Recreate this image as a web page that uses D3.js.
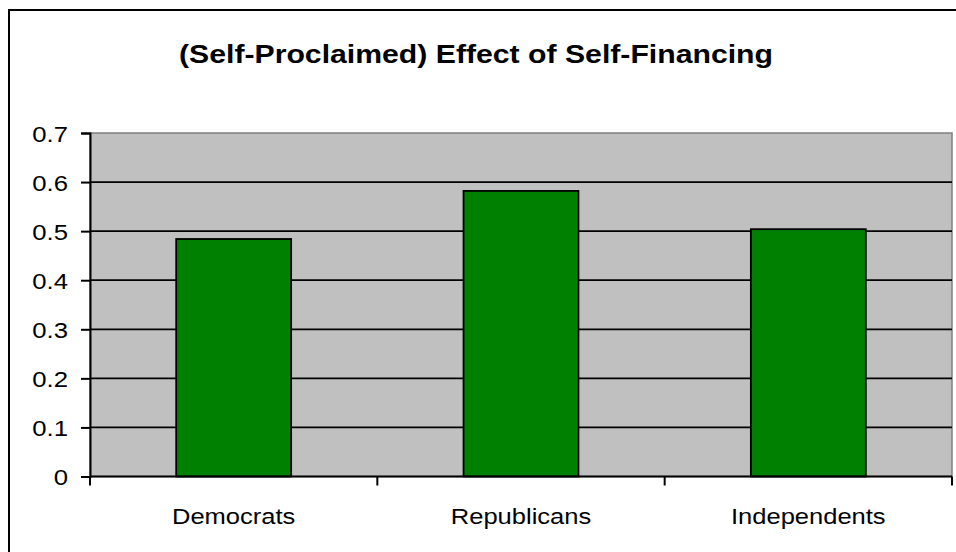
<!DOCTYPE html>
<html>
<head>
<meta charset="utf-8">
<script src="https://cdn.jsdelivr.net/npm/d3@7"></script>
<style>
  html, body { margin: 0; padding: 0; background: #fff; }
  svg { display: block; }
  text { font-family: "Liberation Sans", Arial, sans-serif; fill: #000; }
</style>
</head>
<body>
<svg id="chart" width="956" height="552"></svg>
<script>
// Chart data
const title = "(Self-Proclaimed) Effect of Self-Financing";
const categories = ["Democrats", "Republicans", "Independents"];
const values = [0.484, 0.582, 0.504];
const yTicks = [0, 0.1, 0.2, 0.3, 0.4, 0.5, 0.6, 0.7];
const yTickLabels = ["0", "0.1", "0.2", "0.3", "0.4", "0.5", "0.6", "0.7"];

const svg = d3.select("#chart");
const W = 956, H = 552;
const plot = { left: 90, right: 952, top: 133, bottom: 476.5 };

// outer chart frame (runs off the right and bottom edges)
svg.append("rect")
  .attr("x", 9).attr("y", 10)
  .attr("width", W + 20).attr("height", H + 20)
  .attr("fill", "#fff").attr("stroke", "#000").attr("stroke-width", 2);

const x = d3.scaleBand().domain(categories).range([plot.left, plot.right]).padding(0);
const y = d3.scaleLinear().domain([0, 0.7]).range([plot.bottom, plot.top]);

// plot area background with grey border
svg.append("rect")
  .attr("x", plot.left).attr("y", plot.top)
  .attr("width", plot.right - plot.left).attr("height", plot.bottom - plot.top)
  .attr("fill", "#C0C0C0").attr("stroke", "#808080").attr("stroke-width", 1.5);

// horizontal gridlines
svg.append("g").selectAll("line")
  .data(yTicks.filter(d => d > 0 && d < 0.7))
  .join("line")
  .attr("x1", plot.left).attr("x2", plot.right)
  .attr("y1", d => y(d)).attr("y2", d => y(d))
  .attr("stroke", "#000").attr("stroke-width", 1.8);

// bars: 150% gap width -> bar is 40% of the category band
const barFrac = 0.4;
svg.append("g").selectAll("rect")
  .data(categories.map((c, i) => ({ c, v: values[i] })))
  .join("rect")
  .attr("x", d => x(d.c) + x.bandwidth() * (1 - barFrac) / 2)
  .attr("width", x.bandwidth() * barFrac)
  .attr("y", d => y(d.v))
  .attr("height", d => y(0) - y(d.v))
  .attr("fill", "#008000").attr("stroke", "#000").attr("stroke-width", 1.8);

// y axis
const yAxis = d3.axisLeft(y).tickValues(yTicks)
  .tickFormat((d, i) => yTickLabels[i]).tickSize(9).tickPadding(0);
const gy = svg.append("g").attr("transform", `translate(${plot.left},0)`).call(yAxis);
gy.select(".domain").attr("stroke", "#000").attr("stroke-width", 2);
gy.selectAll(".tick line").attr("stroke", "#000").attr("stroke-width", 2);
gy.selectAll(".tick text")
  .attr("x", 0).attr("dy", "0.36em")
  .attr("font-size", 23)
  .attr("text-anchor", "end")
  .attr("transform", "translate(-22,0) scale(1.12,1)");

// x axis: ticks at category boundaries
const boundaries = [plot.left].concat(categories.map(c => x(c) + x.bandwidth()));
const gx = svg.append("g");
gx.append("line")
  .attr("x1", plot.left).attr("x2", plot.right)
  .attr("y1", plot.bottom).attr("y2", plot.bottom)
  .attr("stroke", "#000").attr("stroke-width", 2);
gx.selectAll("line.tk")
  .data(boundaries)
  .join("line").attr("class", "tk")
  .attr("x1", d => d).attr("x2", d => d)
  .attr("y1", plot.bottom).attr("y2", plot.bottom + 9)
  .attr("stroke", "#000").attr("stroke-width", 2);
gx.selectAll("text")
  .data(categories)
  .join("text")
  .attr("text-anchor", "middle")
  .attr("font-size", 22)
  .attr("transform", d => `translate(${x(d) + x.bandwidth() / 2},524) scale(1.16,1)`)
  .text(d => d);

// title
svg.append("text")
  .attr("text-anchor", "middle")
  .attr("font-size", 26.5)
  .attr("font-weight", "bold")
  .attr("transform", "translate(476,62.5) scale(1.14,1)")
  .text(title);
</script>
</body>
</html>
